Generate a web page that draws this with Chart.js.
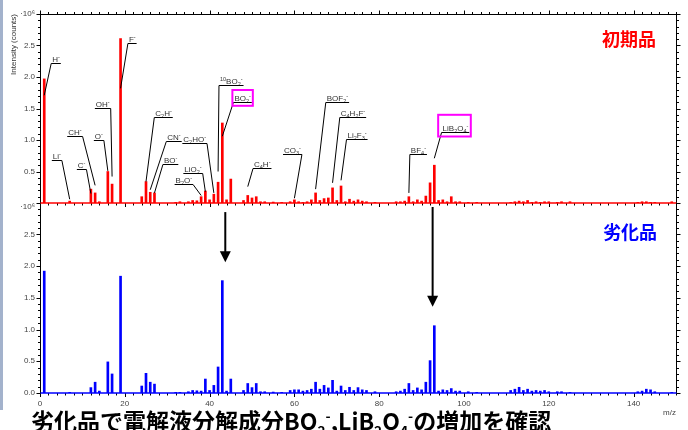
<!DOCTYPE html>
<html>
<head>
<meta charset="utf-8">
<script src="https://cdn.jsdelivr.net/npm/chart.js@4/dist/chart.umd.min.js"></script>
<style>
  html, body { margin: 0; padding: 0; background: #fff; }
  #wrap { position: relative; width: 688px; height: 430px; overflow: hidden; background: #fff; }
  #wrap canvas { position: absolute; left: 0; top: 0; }
  .strip { position: absolute; left: 0; top: 0; width: 3px; height: 410px; background: #a3b2cc; }
  .tag { position: absolute; font-family: "Noto Sans CJK JP", sans-serif; font-weight: 700;
         font-size: 18px; line-height: 18px; white-space: nowrap; }
  #headline { position: absolute; left: 31px; top: 409px; font-family: "Noto Sans CJK JP", sans-serif;
              font-weight: 700; font-size: 23px; line-height: 23px; white-space: nowrap; color: #000; }
  #headline sub, #headline sup { font-size: 0.6em; line-height: 0; }
</style>
</head>
<body>
<div id="wrap">
  <canvas id="initialChart" width="688" height="430"></canvas>
  <canvas id="degradedChart" width="688" height="430"></canvas>
  <div class="strip"></div>
  <div class="tag" style="left:602px; top:29px; color:#ff0000;">初期品</div>
  <div class="tag" style="left:603px; top:222px; color:#0000ff;">劣化品</div>
  <div id="headline">劣化品で電解液分解成分BO<sub>2</sub><sup>-</sup>,LiB<sub>2</sub>O<sub>4</sub><sup>-</sup>の増加を確認</div>
</div>
<script>
// Negative-ion spectra, intensities in units of 10^6 counts
const massToCharge = [
  1, 7, 12, 13, 14, 16, 17, 19, 24, 25, 26, 27, 32, 33, 35, 36, 37, 38, 39, 40,
  41, 42, 43, 44, 45, 48, 49, 50, 51, 52, 53, 55, 57, 59, 60, 61, 62, 63, 64, 65,
  66, 67, 68, 69, 70, 71, 72, 73, 74, 75, 76, 77, 79, 84, 85, 86, 87, 88, 89, 90,
  91, 92, 93, 94, 95, 96, 97, 98, 99, 101, 103, 111, 112, 113, 114, 115, 116, 117, 118, 119,
  120, 122, 123, 125, 141, 142, 143, 144, 145, 149
];
const initialCounts = [
  1.97, 0.03, 0.22, 0.16, 0.02, 0.50, 0.30, 2.61, 0.10, 0.34, 0.17, 0.16, 0.01, 0.02, 0.02, 0.04, 0.035, 0.10, 0.19, 0.05,
  0.14, 0.33, 1.27, 0.05, 0.38, 0.04, 0.12, 0.08, 0.10, 0.02, 0.02, 0.015, 0.01, 0.02, 0.05, 0.02, 0.01, 0.02, 0.05, 0.16,
  0.04, 0.07, 0.08, 0.24, 0.04, 0.27, 0.02, 0.06, 0.03, 0.05, 0.03, 0.02, 0.01, 0.02, 0.02, 0.03, 0.10, 0.02, 0.05, 0.03,
  0.11, 0.32, 0.60, 0.04, 0.05, 0.02, 0.10, 0.02, 0.02, 0.01, 0.01, 0.01, 0.02, 0.03, 0.02, 0.04, 0.01, 0.02, 0.01, 0.02,
  0.02, 0.01, 0.02, 0.02, 0.01, 0.02, 0.02, 0.01, 0.01, 0.02
];
const degradedCounts = [
  1.92, 0.01, 0.085, 0.17, 0.03, 0.49, 0.30, 1.84, 0.11, 0.31, 0.17, 0.14, 0.01, 0.01, 0.02, 0.04, 0.035, 0.03, 0.22, 0.04,
  0.12, 0.41, 1.77, 0.03, 0.22, 0.04, 0.15, 0.085, 0.15, 0.02, 0.02, 0.015, 0.01, 0.04, 0.05, 0.05, 0.03, 0.04, 0.06, 0.17,
  0.06, 0.12, 0.08, 0.20, 0.03, 0.11, 0.04, 0.09, 0.04, 0.085, 0.05, 0.04, 0.02, 0.02, 0.03, 0.06, 0.15, 0.04, 0.08, 0.05,
  0.17, 0.51, 1.06, 0.03, 0.05, 0.04, 0.07, 0.03, 0.03, 0.02, 0.01, 0.04, 0.06, 0.09, 0.04, 0.06, 0.03, 0.04, 0.03, 0.04,
  0.02, 0.02, 0.02, 0.01, 0.02, 0.03, 0.06, 0.05, 0.02, 0.01
];
const xTickLabels = [0, 20, 40, 60, 80, 100, 120, 140];
const yTickLabels = [0, 0.5, 1.0, 1.5, 2.0, 2.5];

// Peak assignments on the initial spectrum: label, peak m/z, where the leader meets the bar,
// left end of the underline (m/z, 10^6 counts) and which underline end the leader leaves from
const peakNotes = [
  { label: 'H^-',        mz: 1,  hit: 1.71,  ul: [2.64, 2.22],  end: 'left' },
  { label: 'Li^-',       mz: 7,  hit: 0.06,  ul: [2.79, 0.69],  end: 'right' },
  { label: 'CH^-',       mz: 13, hit: 0.28,  ul: [6.42, 1.07],  end: 'right' },
  { label: 'C^-',        mz: 12, hit: 0.15,  ul: [8.69, 0.54],  end: 'right' },
  { label: 'OH^-',       mz: 17, hit: 0.42,  ul: [12.94, 1.51], end: 'right' },
  { label: 'O^-',        mz: 16, hit: 0.51,  ul: [12.70, 1.00], end: 'right' },
  { label: 'F^-',        mz: 19, hit: 1.82,  ul: [20.73, 2.54], end: 'left' },
  { label: 'C_2H^-',     mz: 25, hit: 0.34,  ul: [26.96, 1.36], end: 'left' },
  { label: 'CN^-',       mz: 26, hit: 0.21,  ul: [29.79, 0.98], end: 'left' },
  { label: 'BO^-',       mz: 27, hit: 0.16,  ul: [28.99, 0.62], end: 'left' },
  { label: 'C_2HO^-',    mz: 41, hit: 0.16,  ul: [33.57, 0.96], end: 'right' },
  { label: 'LiO_2^-',    mz: 39, hit: 0.18,  ul: [33.81, 0.48], end: 'right' },
  { label: 'B_2O^-',     mz: 38, hit: 0.12,  ul: [31.75, 0.30], end: 'right' },
  { label: '^10BO_2^-',  mz: 42, hit: 0.50,  ul: [42.21, 1.87], end: 'left' },
  { label: 'BO_2^-',     mz: 43, hit: 1.06,  ul: [45.61, 1.60], end: 'left', box: [1, 12.5, 1, 3.3] },
  { label: 'C_4H^-',     mz: 49, hit: 0.26,  ul: [50.24, 0.55], end: 'left' },
  { label: 'CO_3^-',     mz: 60, hit: 0.075, ul: [57.32, 0.78], end: 'right' },
  { label: 'BOF_2^-',    mz: 65, hit: 0.22,  ul: [67.40, 1.60], end: 'left' },
  { label: 'C_4H_2F^-',  mz: 69, hit: 0.32,  ul: [70.70, 1.36], end: 'left' },
  { label: 'Li_2F_3^-',  mz: 71, hit: 0.36,  ul: [72.29, 1.01], end: 'left' },
  { label: 'BF_4^-',     mz: 87, hit: 0.16,  ul: [87.23, 0.78], end: 'left' },
  { label: 'LiB_2O_4^-', mz: 93, hit: 0.71,  ul: [94.71, 1.13], end: 'left', box: [3.4, 17.7, 1.5, 4] }
];

// Arrows over the degraded spectrum (m/z, start and tip in 10^6 counts)
const arrowMarks = [
  { mz: 43.7, from: 2.85, to: 2.06 },
  { mz: 92.6, from: 2.93, to: 1.36 }
];

const FONT = '"Liberation Sans", Arial, sans-serif';
Chart.defaults.font.family = FONT;

function series(values) {
  return massToCharge.map((m, i) => ({ x: m, y: values[i] }));
}

// split "C_2H^-" into normal / subscript / superscript runs
function parseFormula(s) {
  const out = [];
  let i = 0;
  while (i < s.length) {
    const c = s[i];
    if (c === '_' || c === '^') {
      let j = i + 1, t = '';
      if (s[j] === '-') { t = '-'; j++; }
      else { while (j < s.length && /[0-9]/.test(s[j])) { t += s[j]; j++; } }
      out.push({ t, kind: c === '_' ? 'sub' : 'sup' });
      i = j;
    } else {
      let j = i, t = '';
      while (j < s.length && s[j] !== '_' && s[j] !== '^') { t += s[j]; j++; }
      out.push({ t, kind: 'n' });
      i = j;
    }
  }
  return out;
}

function drawFormula(ctx, text, x, baseY) {
  const runs = parseFormula(text);
  let cx = x;
  runs.forEach(r => {
    ctx.font = (r.kind === 'n' ? '8px ' : '5.5px ') + FONT;
    const dy = r.kind === 'sub' ? 1.8 : (r.kind === 'sup' ? -3.3 : 0);
    ctx.fillText(r.t, cx, baseY + dy);
    cx += ctx.measureText(r.t).width;
  });
  return cx - x;
}

function framePlugin(cfg) {
  return {
    id: 'spectrumFrame',
    afterDatasetsDraw(chart) {
      const { ctx, chartArea: a, scales: { x, y } } = chart;
      const line = (x1, y1, x2, y2) => { ctx.beginPath(); ctx.moveTo(x1, y1); ctx.lineTo(x2, y2); ctx.stroke(); };
      ctx.save();
      ctx.strokeStyle = '#000';
      ctx.lineWidth = 1;
      const L = a.left + 0.5, R = a.right + 0.5;
      for (let k = 0; k * 0.1 <= y.max + 1e-9; k++) {
        const py = Math.round(y.getPixelForValue(k * 0.1)) + 0.5;
        const len = k % 5 === 0 ? 4 : 2.5;
        line(L - len, py, L, py);
        line(R, py, R + len, py);
      }
      for (let m = 0; m <= 150; m += 2) {
        const px = Math.round(x.getPixelForValue(m)) + 0.5;
        const len = m % 20 === 0 ? 4 : 2.5;
        if (cfg.top) line(px, a.top + 0.5 - len, px, a.top + 0.5);
        line(px, a.bottom, px, a.bottom + len);
      }
      line(L, a.top, L, a.bottom);
      line(R, a.top - (cfg.top ? 0 : 4), R, a.bottom);
      if (cfg.top) line(L, a.top + 0.5, R, a.top + 0.5);
      ctx.strokeStyle = cfg.base;
      ctx.lineWidth = 1.6;
      line(L, a.bottom, R, a.bottom);
      ctx.restore();
    }
  };
}

const notesPlugin = {
  id: 'peakNotes',
  afterDatasetsDraw(chart) {
    const { ctx, scales: { x, y } } = chart;
    ctx.save();
    peakNotes.forEach(n => {
      const ulX = x.getPixelForValue(n.ul[0]);
      const ulY = Math.round(y.getPixelForValue(n.ul[1])) + 0.5;
      ctx.fillStyle = '#333';
      ctx.textBaseline = 'alphabetic';
      const w = drawFormula(ctx, n.label, ulX + 1, ulY - 1.6);
      const ulR = ulX + w + 2;
      ctx.strokeStyle = '#000';
      ctx.lineWidth = 1;
      ctx.beginPath(); ctx.moveTo(ulX, ulY); ctx.lineTo(ulR, ulY); ctx.stroke();
      const sx = n.end === 'left' ? ulX : ulR;
      ctx.beginPath();
      ctx.moveTo(sx, ulY);
      ctx.lineTo(x.getPixelForValue(n.mz), y.getPixelForValue(n.hit));
      ctx.stroke();
      if (n.box) {
        const [pl, pt, pr, pb] = n.box;
        ctx.strokeStyle = '#ff00ff';
        ctx.lineWidth = 2;
        ctx.strokeRect(ulX - pl, ulY - pt, (ulR + pr) - (ulX - pl), pt + pb);
      }
    });
    ctx.restore();
  }
};

const arrowsPlugin = {
  id: 'arrowMarks',
  afterDatasetsDraw(chart) {
    const { ctx, scales: { x, y } } = chart;
    ctx.save();
    ctx.strokeStyle = '#000';
    ctx.fillStyle = '#000';
    ctx.lineWidth = 2;
    arrowMarks.forEach(a => {
      const px = x.getPixelForValue(a.mz);
      const y0 = y.getPixelForValue(a.from);
      const tip = y.getPixelForValue(a.to);
      const head = 11;
      ctx.beginPath(); ctx.moveTo(px, y0); ctx.lineTo(px, tip - head + 1); ctx.stroke();
      ctx.beginPath();
      ctx.moveTo(px, tip);
      ctx.lineTo(px - 5.5, tip - head);
      ctx.lineTo(px + 5.5, tip - head);
      ctx.closePath();
      ctx.fill();
    });
    ctx.restore();
  }
};

function spectrumChart(id, values, color, o) {
  return new Chart(document.getElementById(id), {
    type: 'bar',
    data: {
      datasets: [{
        data: series(values),
        backgroundColor: color,
        borderWidth: 0,
        barThickness: 2
      }]
    },
    options: {
      responsive: false,
      animation: false,
      devicePixelRatio: 1,
      layout: { padding: o.padding },
      plugins: { legend: { display: false }, tooltip: { enabled: false } },
      scales: {
        x: {
          type: 'linear',
          min: 0,
          max: 150,
          offset: false,
          display: o.showX,
          grid: { display: false, drawTicks: false },
          border: { display: false },
          afterBuildTicks: s => { s.ticks = xTickLabels.map(v => ({ value: v })); },
          afterFit: s => { s.height = o.showX ? 37 : 0; },
          ticks: { font: { size: 8 }, color: '#444', padding: 6, maxRotation: 0, autoSkip: false },
          title: {
            display: true, text: 'm/z', align: 'end', color: '#444',
            font: { size: 8 }, padding: { top: 0, bottom: 12 }
          }
        },
        y: {
          min: 0,
          max: o.yMax,
          grid: { display: false, drawTicks: false },
          border: { display: false },
          afterBuildTicks: s => { s.ticks = yTickLabels.concat([o.yMax]).map(v => ({ value: v })); },
          afterFit: s => { s.width = 40; },
          ticks: {
            font: { size: 8 }, color: '#444', padding: 5,
            callback: v => (Math.abs(v - o.yMax) < 1e-9 ? '·10⁶' : (o.hideZero && v === 0 ? '' : v.toFixed(1)))
          },
          title: {
            display: o.yTitle, text: 'Intensity (counts)', align: 'end', color: '#333',
            font: { size: 8 }, padding: { top: 9, bottom: 0 }
          }
        }
      }
    },
    plugins: o.plugins
  });
}

spectrumChart('initialChart', initialCounts, '#ff0000', {
  padding: { left: 0, top: 14, right: 12, bottom: 227 },
  showX: false, yMax: 3.0, hideZero: true, yTitle: true,
  plugins: [framePlugin({ top: true, base: '#ff0000' }), notesPlugin]
});

spectrumChart('degradedChart', degradedCounts, '#0000ff', {
  padding: { left: 0, top: 207, right: 12, bottom: 0 },
  showX: true, yMax: 2.93, hideZero: false, yTitle: false,
  plugins: [framePlugin({ top: false, base: '#0000ff' }), arrowsPlugin]
});
</script>
</body>
</html>
